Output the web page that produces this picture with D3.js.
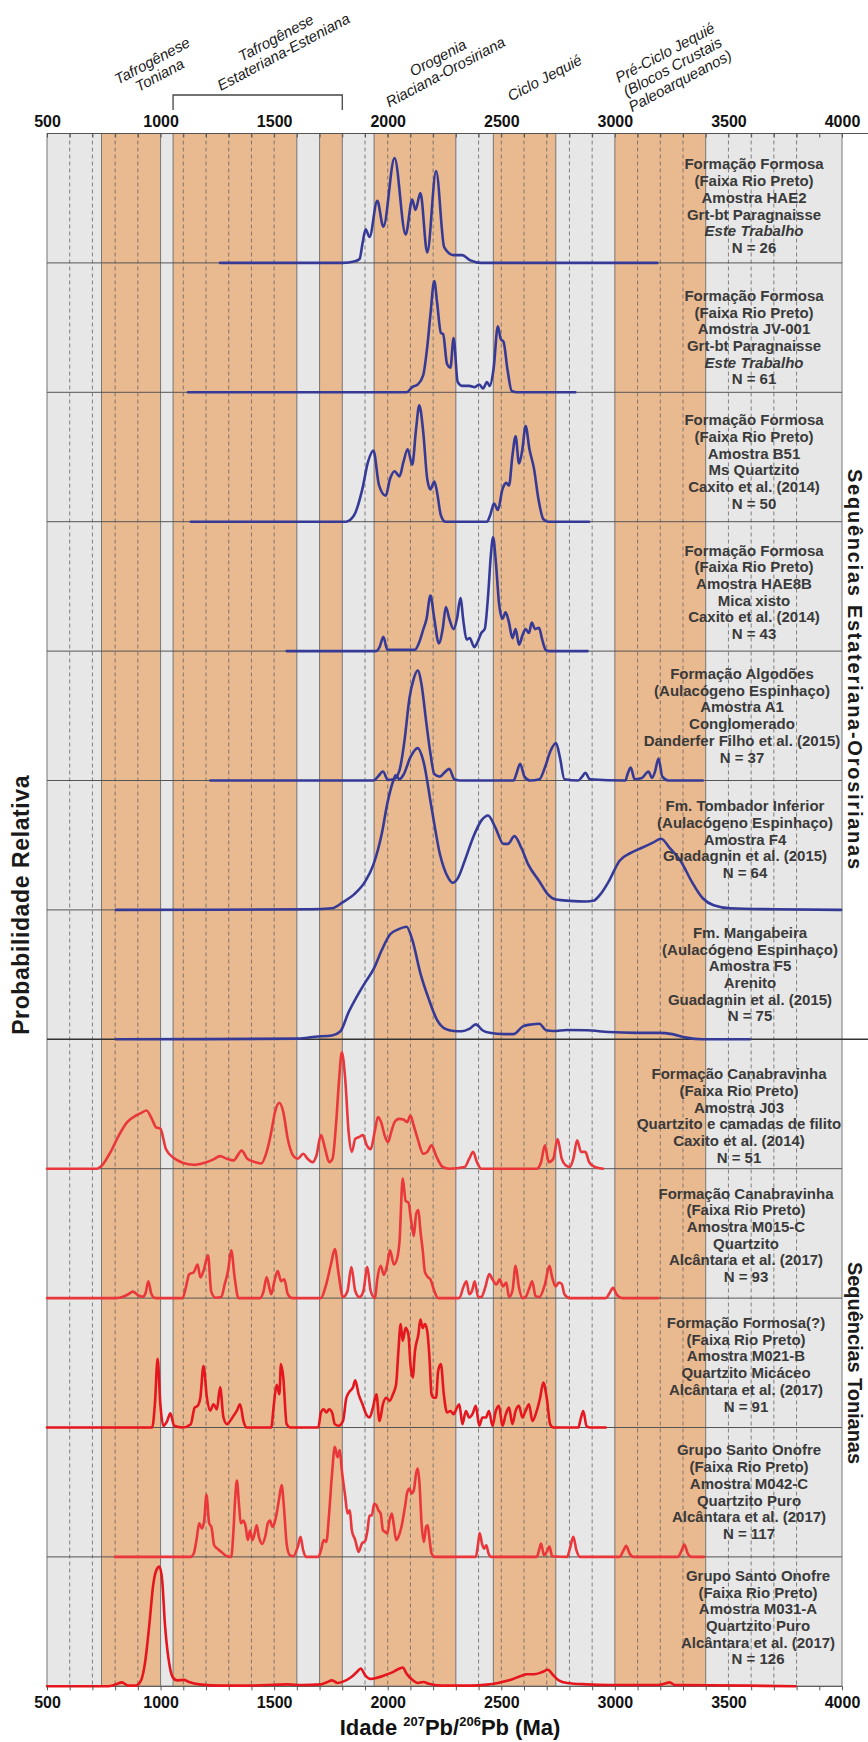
<!DOCTYPE html>
<html>
<head>
<meta charset="utf-8">
<script src="https://cdn.jsdelivr.net/npm/d3@7/dist/d3.min.js"></script>
<style>
  body { margin: 0; background: #fff; }
  svg { display: block; font-family: "Liberation Sans", Arial, Helvetica, sans-serif; }
</style>
</head>
<body>
<svg id="chart" width="868" height="1742"></svg>
<script>
// ---- dados (idade em Ma, probabilidade relativa) ----
const s1 = [[1262,0],[1803,0],[1852,0.01],[1876,0.03],[1889,0.15],[1903,0.26],[1920,0.2],[1954,0.48],[1981,0.28],[2030,0.81],[2079,0.22],[2108,0.49],[2122,0.41],[2144,0.54],[2174,0.08],[2213,0.71],[2249,0.12],[2290,0.06],[2327,0.06],[2364,0.02],[2412,0],[3187,0]]
const s2 = [[1121,0],[2083,0],[2108,0.04],[2132,0.06],[2156,0.13],[2174,0.35],[2188,0.6],[2205,0.86],[2217,0.7],[2234,0.46],[2244,0.45],[2261,0.22],[2276,0.19],[2290,0.42],[2308,0.08],[2327,0.05],[2359,0.05],[2383,0.04],[2403,0.06],[2420,0.03],[2437,0.08],[2449,0.05],[2466,0.18],[2485,0.51],[2498,0.41],[2510,0.39],[2527,0.18],[2546,0.01],[2571,0],[2826,0]]
const s3 = [[1133,0],[1815,0],[1852,0.05],[1888,0.25],[1913,0.46],[1937,0.55],[1962,0.28],[1991,0.2],[2010,0.33],[2030,0.39],[2052,0.35],[2069,0.46],[2088,0.56],[2108,0.44],[2125,0.72],[2139,0.9],[2156,0.7],[2174,0.33],[2188,0.25],[2205,0.31],[2217,0.23],[2234,0.05],[2254,0],[2437,0],[2451,0.05],[2468,0.14],[2485,0.09],[2505,0.25],[2522,0.3],[2534,0.28],[2549,0.51],[2563,0.66],[2578,0.45],[2593,0.56],[2607,0.74],[2624,0.56],[2644,0.41],[2663,0.18],[2685,0.02],[2705,0],[2887,0]]
const s4 = [[1555,0],[1949,0],[1964,0.03],[1981,0.11],[1998,0.01],[2120,0.01],[2137,0.06],[2157,0.17],[2171,0.25],[2188,0.43],[2205,0.25],[2225,0.06],[2242,0.17],[2256,0.34],[2271,0.25],[2290,0.17],[2305,0.25],[2320,0.41],[2334,0.22],[2347,0.09],[2361,0.1],[2381,0.03],[2393,0.06],[2412,0.14],[2427,0.17],[2442,0.43],[2454,0.74],[2464,0.88],[2476,0.69],[2490,0.37],[2505,0.25],[2519,0.3],[2534,0.22],[2549,0.1],[2563,0.17],[2578,0.05],[2593,0.12],[2607,0.17],[2622,0.14],[2634,0.22],[2649,0.17],[2666,0.18],[2680,0.09],[2695,0.01],[2709,0],[2880,0]]
const s5 = [[1219,0],[1937,0],[1957,0.03],[1979,0.07],[2001,0.005],[2027,0.01],[2052,0.08],[2074,0.31],[2096,0.64],[2115,0.79],[2132,0.85],[2149,0.74],[2169,0.46],[2188,0.21],[2205,0.05],[2230,0.03],[2249,0.06],[2271,0.09],[2293,0.01],[2315,0],[2554,0],[2568,0.06],[2583,0.13],[2602,0.03],[2627,0],[2668,0.01],[2692,0.1],[2717,0.23],[2741,0.29],[2758,0.18],[2778,0.01],[2839,0],[2856,0.03],[2870,0.06],[2890,0.01],[3046,0],[3058,0.06],[3070,0.1],[3087,0.01],[3119,0.02],[3148,0.07],[3163,0.02],[3177,0.07],[3192,0.17],[3209,0.03],[3236,0],[3387,0]]
const s6 = [[804,0],[1657,0.005],[1755,0.013],[1803,0.06],[1852,0.12],[1901,0.22],[1937,0.35],[1974,0.59],[1998,0.82],[2023,0.99],[2035,1.04],[2052,1.01],[2071,1.05],[2100,1.18],[2132,1.25],[2157,1.15],[2193,0.79],[2230,0.43],[2266,0.25],[2286,0.21],[2310,0.25],[2339,0.38],[2376,0.56],[2412,0.69],[2442,0.73],[2473,0.64],[2510,0.51],[2529,0.51],[2558,0.57],[2588,0.48],[2619,0.35],[2668,0.22],[2705,0.12],[2741,0.08],[2802,0.07],[2875,0.065],[2904,0.07],[2936,0.12],[2973,0.22],[3021,0.38],[3070,0.44],[3119,0.48],[3168,0.52],[3204,0.55],[3241,0.48],[3289,0.38],[3338,0.22],[3387,0.09],[3435,0.036],[3509,0.013],[3703,0.005],[3996,0]]
const s7 = [[804,0],[1608,0.005],[1681,0.02],[1755,0.03],[1791,0.06],[1828,0.21],[1864,0.33],[1901,0.44],[1937,0.54],[1974,0.69],[2010,0.81],[2047,0.85],[2083,0.87],[2108,0.77],[2144,0.51],[2181,0.31],[2217,0.15],[2254,0.08],[2290,0.064],[2327,0.062],[2359,0.08],[2388,0.115],[2417,0.07],[2449,0.05],[2510,0.04],[2554,0.04],[2595,0.1],[2632,0.115],[2668,0.12],[2697,0.07],[2729,0.064],[2790,0.072],[2875,0.07],[2973,0.056],[3094,0.05],[3192,0.05],[3253,0.04],[3314,0.013],[3387,0],[3594,0]]
const s8 = [[500,0],[719,0],[744,0.03],[780,0.13],[817,0.26],[853,0.36],[890,0.41],[914,0.43],[938,0.45],[963,0.38],[980,0.32],[999,0.31],[1024,0.15],[1060,0.08],[1097,0.046],[1146,0.03],[1194,0.046],[1231,0.07],[1262,0.097],[1292,0.077],[1321,0.064],[1357,0.14],[1382,0.077],[1418,0.05],[1443,0.04],[1467,0.13],[1487,0.28],[1504,0.44],[1523,0.51],[1540,0.44],[1560,0.23],[1584,0.1],[1604,0.077],[1628,0.115],[1647,0.077],[1669,0.05],[1686,0.1],[1706,0.26],[1725,0.15],[1742,0.05],[1757,0.077],[1774,0.38],[1786,0.69],[1798,0.9],[1813,0.69],[1828,0.28],[1842,0.13],[1857,0.23],[1874,0.245],[1891,0.26],[1908,0.18],[1925,0.15],[1942,0.28],[1957,0.4],[1971,0.36],[1986,0.26],[2001,0.205],[2015,0.28],[2030,0.36],[2049,0.385],[2069,0.38],[2086,0.36],[2100,0.41],[2115,0.33],[2132,0.23],[2157,0.115],[2174,0.13],[2193,0.18],[2213,0.1],[2242,0.013],[2271,0],[2339,0.013],[2359,0.077],[2376,0.13],[2393,0.05],[2412,0],[2656,0],[2675,0.05],[2692,0.18],[2709,0.05],[2729,0.077],[2748,0.23],[2766,0.077],[2783,0.026],[2802,0.013],[2817,0.077],[2834,0.22],[2851,0.13],[2870,0.13],[2887,0.05],[2912,0.013],[2948,0]]
const s9 = [[500,0],[805,0],[834,0.01],[858,0.03],[878,0.05],[902,0.02],[921,0.01],[934,0.04],[946,0.13],[960,0.03],[977,0],[1097,0],[1111,0.08],[1126,0.185],[1146,0.2],[1163,0.26],[1175,0.16],[1189,0.21],[1209,0.33],[1223,0.05],[1243,0.003],[1267,0.008],[1282,0.105],[1297,0.21],[1311,0.37],[1326,0.16],[1343,0],[1438,0],[1453,0.05],[1467,0.16],[1487,0.03],[1501,0.13],[1516,0.21],[1530,0.13],[1545,0.145],[1560,0.03],[1579,0],[1706,0],[1725,0.08],[1750,0.26],[1767,0.38],[1784,0.185],[1803,0.008],[1823,0.055],[1840,0.24],[1857,0.055],[1876,0.008],[1893,0.055],[1910,0.24],[1925,0.055],[1944,0],[1954,0.145],[1969,0.25],[1983,0.18],[1998,0.26],[2010,0.37],[2027,0.26],[2042,0.31],[2052,0.44],[2066,0.925],[2079,0.75],[2091,0.74],[2103,0.6],[2115,0.48],[2125,0.65],[2135,0.68],[2144,0.52],[2154,0.37],[2164,0.2],[2178,0.16],[2188,0.145],[2205,0.055],[2222,0],[2315,0],[2334,0.09],[2347,0.13],[2359,0.03],[2371,0.055],[2383,0.13],[2398,0.008],[2412,0.008],[2429,0.08],[2447,0.185],[2461,0.145],[2478,0.105],[2493,0.145],[2507,0.09],[2522,0.12],[2534,0.008],[2549,0.055],[2563,0.25],[2578,0.08],[2593,0],[2607,0.008],[2624,0.08],[2636,0.13],[2651,0.015],[2668,0.008],[2692,0.105],[2712,0.25],[2724,0.16],[2739,0.09],[2753,0.12],[2766,0.11],[2778,0.03],[2802,0],[2960,0],[2977,0.04],[2992,0.08],[3007,0.03],[3033,0],[3192,0]]
const s10 = [[500,0],[963,0],[975,0.18],[987,0.53],[999,0.18],[1012,0.013],[1029,0.05],[1043,0.11],[1060,0.013],[1097,0],[1133,0.026],[1150,0.154],[1163,0.167],[1175,0.23],[1189,0.475],[1204,0.23],[1219,0.13],[1233,0.18],[1248,0.14],[1262,0.31],[1277,0.077],[1292,0.026],[1306,0.05],[1321,0.09],[1336,0.13],[1350,0.18],[1365,0.05],[1379,0],[1487,0],[1499,0.18],[1511,0.33],[1523,0.257],[1530,0.49],[1540,0.39],[1555,0.026],[1572,0],[1694,0],[1706,0.116],[1718,0.141],[1730,0.116],[1742,0.141],[1755,0.116],[1767,0.026],[1784,0.013],[1803,0.05],[1818,0.23],[1833,0.28],[1847,0.31],[1857,0.365],[1872,0.257],[1889,0.18],[1906,0.1],[1920,0.077],[1935,0.154],[1950,0.257],[1964,0.05],[1979,0.18],[1993,0.23],[2008,0.206],[2023,0.257],[2037,0.334],[2047,0.59],[2057,0.8],[2066,0.67],[2079,0.77],[2091,0.72],[2100,0.49],[2110,0.386],[2120,0.59],[2135,0.72],[2144,0.835],[2154,0.77],[2164,0.8],[2174,0.745],[2183,0.565],[2193,0.257],[2203,0.23],[2213,0.23],[2222,0.437],[2234,0.49],[2247,0.257],[2261,0.116],[2276,0.128],[2290,0.103],[2305,0.154],[2315,0.18],[2329,0.026],[2344,0.128],[2359,0.077],[2373,0.103],[2388,0.167],[2403,0.013],[2417,0.077],[2432,0.077],[2446,0.128],[2461,0.013],[2476,0.128],[2490,0.167],[2505,0.013],[2520,0.103],[2534,0.154],[2549,0.026],[2563,0.128],[2578,0.167],[2593,0.077],[2607,0.128],[2622,0.18],[2637,0.05],[2656,0.128],[2671,0.23],[2685,0.347],[2700,0.23],[2715,0.026],[2729,0],[2839,0],[2851,0.077],[2861,0.128],[2875,0.013],[2890,0],[2960,0]]
const s11 = [[800,0],[1133,0],[1146,0.026],[1158,0.13],[1170,0.26],[1182,0.22],[1192,0.28],[1202,0.48],[1214,0.26],[1224,0.23],[1236,0.09],[1250,0.064],[1267,0.039],[1292,0.005],[1311,0],[1321,0.206],[1328,0.44],[1336,0.59],[1345,0.41],[1353,0.26],[1365,0.28],[1375,0.23],[1384,0.13],[1394,0.206],[1404,0.13],[1414,0.18],[1423,0.245],[1433,0.155],[1448,0.1],[1462,0.167],[1472,0.258],[1482,0.28],[1492,0.232],[1501,0.258],[1511,0.335],[1521,0.44],[1533,0.555],[1543,0.387],[1555,0.103],[1569,0.013],[1584,0.005],[1604,0.077],[1616,0.155],[1628,0.05],[1640,0],[1694,0],[1706,0.05],[1718,0.13],[1730,0.116],[1742,0.335],[1755,0.645],[1767,0.85],[1779,0.77],[1789,0.825],[1798,0.67],[1813,0.465],[1823,0.335],[1833,0.36],[1842,0.206],[1857,0.13],[1872,0.039],[1886,0.103],[1901,0.124],[1911,0.206],[1920,0.32],[1930,0.32],[1940,0.41],[1950,0.4],[1959,0.36],[1969,0.335],[1979,0.206],[1989,0.193],[1998,0.18],[2008,0.283],[2018,0.335],[2027,0.245],[2037,0.13],[2047,0.155],[2062,0.245],[2076,0.387],[2086,0.5],[2096,0.528],[2105,0.49],[2115,0.515],[2125,0.645],[2132,0.683],[2140,0.567],[2149,0.258],[2159,0.116],[2169,0.232],[2176,0.245],[2183,0.155],[2193,0.026],[2208,0],[2388,0],[2398,0.103],[2405,0.185],[2415,0.103],[2424,0.064],[2434,0.09],[2444,0.026],[2456,0],[2656,0],[2668,0.064],[2675,0.103],[2688,0.013],[2700,0.039],[2712,0.08],[2724,0.005],[2790,0],[2802,0.064],[2817,0.155],[2831,0.05],[2846,0],[3021,0],[3038,0.05],[3050,0.085],[3065,0.026],[3082,0],[3278,0],[3294,0.05],[3306,0.095],[3321,0.026],[3338,0],[3392,0]]
const s12 = [[500,0],[768,0],[804,0.015],[829,0.03],[858,0.005],[890,0.005],[914,0.046],[931,0.175],[951,0.485],[968,0.79],[982,0.9],[995,0.925],[1007,0.82],[1019,0.485],[1036,0.2],[1053,0.072],[1072,0.046],[1102,0.05],[1126,0.033],[1170,0.015],[1267,0.005],[1389,0.005],[1560,0.015],[1621,0.01],[1706,0.015],[1730,0.03],[1755,0.046],[1779,0.026],[1803,0.036],[1840,0.072],[1864,0.11],[1881,0.137],[1901,0.085],[1925,0.057],[1954,0.067],[1986,0.085],[2023,0.11],[2052,0.137],[2066,0.145],[2083,0.098],[2108,0.05],[2132,0.026],[2157,0.033],[2181,0.02],[2242,0.005],[2364,0.005],[2437,0.013],[2485,0.026],[2534,0.046],[2583,0.077],[2612,0.093],[2644,0.093],[2680,0.11],[2705,0.128],[2729,0.085],[2753,0.046],[2790,0.026],[2875,0.015],[2973,0.01],[3192,0.01],[3217,0.02],[3241,0.03],[3265,0.01],[3411,0.008],[3582,0.005],[3796,0]]
const series = [s1, s2, s3, s4, s5, s6, s7, s8, s9, s10, s11, s12]

// amostras (texto de cada painel); * = itálico
const sampleLabels = [
  ['Formação Formosa', '(Faixa Rio Preto)', 'Amostra HAE2', 'Grt-bt Paragnaisse', '*Este Trabalho', 'N = 26'],
  ['Formação Formosa', '(Faixa Rio Preto)', 'Amostra JV-001', 'Grt-bt Paragnaisse', '*Este Trabalho', 'N = 61'],
  ['Formação Formosa', '(Faixa Rio Preto)', 'Amostra B51', 'Ms Quartzito', 'Caxito et al. (2014)', 'N = 50'],
  ['Formação Formosa', '(Faixa Rio Preto)', 'Amostra HAE8B', 'Mica xisto', 'Caxito et al. (2014)', 'N = 43'],
  ['Formação Algodões', '(Aulacógeno Espinhaço)', 'Amostra A1', 'Conglomerado', 'Danderfer Filho et al. (2015)', 'N = 37'],
  ['Fm. Tombador Inferior', '(Aulacógeno Espinhaço)', 'Amostra F4', 'Guadagnin et al. (2015)', 'N = 64'],
  ['Fm. Mangabeira', '(Aulacógeno Espinhaço)', 'Amostra F5', 'Arenito', 'Guadagnin et al. (2015)', 'N = 75'],
  ['Formação Canabravinha', '(Faixa Rio Preto)', 'Amostra J03', 'Quartzito e camadas de filito', 'Caxito et al. (2014)', 'N = 51'],
  ['Formação Canabravinha', '(Faixa Rio Preto)', 'Amostra M015-C', 'Quartzito', 'Alcântara et al. (2017)', 'N = 93'],
  ['Formação Formosa(?)', '(Faixa Rio Preto)', 'Amostra M021-B', 'Quartzito Micáceo', 'Alcântara et al. (2017)', 'N = 91'],
  ['Grupo Santo Onofre', '(Faixa Rio Preto)', 'Amostra M042-C', 'Quartzito Puro', 'Alcântara et al. (2017)', 'N = 117'],
  ['Grupo Santo Onofre', '(Faixa Rio Preto)', 'Amostra M031-A', 'Quartzito Puro', 'Alcântara et al. (2017)', 'N = 126']
]

// faixas laranja (eventos), em Ma
const bands = [[740, 1000], [1055, 1600], [1700, 1800], [1940, 2300], [2465, 2740], [3000, 3400]]
// eventos no topo
const events = [
  {lines: ['Tafrogênese', 'Toniana'], age: 980, y: 68},
  {lines: ['Tafrogênese', 'Estateriana-Esteniana'], age: 1525, y: 45},
  {lines: ['Orogenia', 'Riaciana-Orosiriana'], age: 2238, y: 65},
  {lines: ['Ciclo Jequié'], age: 2691, y: 78},
  {lines: ['Pré-Ciclo Jequié', '(Blocos Crustais', 'Paleoarqueanos)'], age: 3254, y: 67}
]
const bracket = [1055, 1800]
const groups = [
  {name: 'Sequências Estateriana-Orosirianas', y: 669, len: 400},
  {name: 'Sequências Tonianas', y: 1363, len: 202}
]
const tickAges = d3.range(500, 4001, 100)
const gridAges = d3.range(600, 3801, 100)

// ---- layout ----
const plotTop = 133.5, panelH = 129.4, nPanels = 12
const plotBottom = plotTop + nPanels * panelH
const x = d3.scaleLinear().domain([500, 4000]).range([47, 842])
const labelX = [754, 754, 754, 754, 742, 745, 750, 739, 746, 746, 749, 758]
const labelLast = [15, 13, 18, 17, 23, 37, 23, 11, 21, 21, 23, 27]
const lineColor = (i) => i < 7 ? '#363a97' : (i === 9 || i === 11 ? '#e5161d' : '#e9373c')

const svg = d3.select('#chart')

// fundo cinza
svg.append('rect')
  .attr('x', x(500)).attr('y', plotTop)
  .attr('width', x(4000) - x(500)).attr('height', plotBottom - plotTop)
  .attr('fill', '#e7e7e7')

// faixas
svg.append('g').selectAll('rect').data(bands).enter().append('rect')
  .attr('x', d => x(d[0])).attr('y', plotTop)
  .attr('width', d => x(d[1]) - x(d[0])).attr('height', plotBottom - plotTop)
  .attr('fill', '#e9b990')

// linhas tracejadas
const edges = bands.flat()
svg.append('g').selectAll('line').data(gridAges.filter(a => edges.indexOf(a) < 0)).enter().append('line')
  .attr('x1', d => x(d)).attr('x2', d => x(d))
  .attr('y1', plotTop).attr('y2', plotBottom)
  .attr('stroke', '#656565').attr('stroke-width', 0.8)
  .attr('stroke-dasharray', '4,3')

// bordas das faixas
svg.append('g').selectAll('line').data(edges).enter().append('line')
  .attr('x1', d => x(d)).attr('x2', d => x(d))
  .attr('y1', plotTop).attr('y2', plotBottom)
  .attr('stroke', '#6c6c6c').attr('stroke-width', 0.9)

// borda do gráfico
svg.append('rect')
  .attr('x', x(500)).attr('y', plotTop)
  .attr('width', x(4000) - x(500)).attr('height', plotBottom - plotTop)
  .attr('fill', 'none').attr('stroke', '#777').attr('stroke-width', 1)

// linhas de base dos painéis
svg.append('g').selectAll('line').data(d3.range(nPanels)).enter().append('line')
  .attr('x1', x(500))
  .attr('x2', i => i === 6 ? 868 : x(4000))
  .attr('y1', i => plotTop + (i + 1) * panelH).attr('y2', i => plotTop + (i + 1) * panelH)
  .attr('stroke', i => i === 6 ? '#333' : '#555')
  .attr('stroke-width', i => i === 6 ? 1.6 : 1)

// linha do topo
svg.append('line')
  .attr('x1', x(500)).attr('x2', 868)
  .attr('y1', plotTop).attr('y2', plotTop)
  .attr('stroke', '#555').attr('stroke-width', 1)

// curvas de probabilidade
series.forEach((s, i) => {
  const base = plotTop + (i + 1) * panelH
  const y = d3.scaleLinear().domain([0, 1]).range([base, base - panelH])
  const line = d3.line()
    .x(d => x(d[0]))
    .y(d => y(d[1]))
    .curve(d3.curveMonotoneX)
  svg.append('path')
    .datum(s)
    .attr('d', line)
    .attr('fill', 'none')
    .attr('stroke', lineColor(i))
    .attr('stroke-width', 2.6)
    .attr('stroke-linejoin', 'round')
    .attr('stroke-linecap', 'round')
})

// textos das amostras
sampleLabels.forEach((lines, i) => {
  const base = plotTop + (i + 1) * panelH
  const lastY = base - labelLast[i]
  const t = svg.append('text')
    .attr('text-anchor', 'middle')
    .attr('font-size', 15)
    .attr('font-weight', 'bold')
    .attr('fill', '#3a3a3a')
  lines.forEach((ln, k) => {
    const italic = ln[0] === '*'
    t.append('tspan')
      .attr('x', labelX[i])
      .attr('y', lastY - (lines.length - 1 - k) * 16.7 + 5)
      .attr('font-style', italic ? 'italic' : null)
      .text(italic ? ln.slice(1) : ln)
  })
})

// eixo superior
const axTop = svg.append('g')
  .attr('transform', 'translate(0,' + plotTop + ')')
  .call(d3.axisTop(x).tickValues(tickAges).tickSize(-4).tickPadding(7)
    .tickFormat(d => d % 500 === 0 ? d : ''))
axTop.select('.domain').remove()

// eixo inferior
const axBot = svg.append('g')
  .attr('transform', 'translate(0,' + plotBottom + ')')
  .call(d3.axisBottom(x).tickValues(tickAges).tickSize(4).tickPadding(6)
    .tickFormat(d => d % 500 === 0 ? d : ''))
axBot.select('.domain').remove()

svg.selectAll('.tick line').attr('stroke', '#555')
svg.selectAll('.tick text')
  .attr('font-family', '"Liberation Sans", Arial, sans-serif')
  .attr('font-size', 16).attr('font-weight', 'bold').attr('fill', '#111')

// título eixo x
const xt = svg.append('text')
  .attr('x', 450).attr('y', 1735)
  .attr('text-anchor', 'middle')
  .attr('font-size', 22).attr('font-weight', 'bold').attr('fill', '#111')
xt.append('tspan').text('Idade ')
xt.append('tspan').attr('font-size', 13).attr('dy', -9).text('207')
xt.append('tspan').attr('dy', 9).text('Pb/')
xt.append('tspan').attr('font-size', 13).attr('dy', -9).text('206')
xt.append('tspan').attr('dy', 9).text('Pb (Ma)')

// título eixo y
svg.append('text')
  .attr('transform', 'translate(29,' + ((plotTop + plotBottom) / 2 - 5) + ') rotate(-90)')
  .attr('text-anchor', 'middle')
  .attr('font-size', 23).attr('font-weight', 'bold').attr('fill', '#1a1a1a')
  .attr('letter-spacing', 0.6)
  .text('Probabilidade Relativa')

// rótulos dos grupos (direita)
svg.append('g').selectAll('text').data(groups).enter().append('text')
  .attr('transform', d => 'translate(848,' + d.y + ') rotate(90)')
  .attr('text-anchor', 'middle')
  .attr('font-size', 20).attr('font-weight', 'bold').attr('fill', '#1a1a1a')
  .attr('textLength', d => d.len).attr('lengthAdjust', 'spacing')
  .text(d => d.name)

// eventos (topo)
events.forEach(ev => {
  const g = svg.append('g')
    .attr('transform', 'translate(' + x(ev.age) + ',' + ev.y + ') rotate(-28)')
  const t = g.append('text')
    .attr('text-anchor', 'middle')
    .attr('font-size', 15).attr('font-style', 'italic').attr('fill', '#1a1a1a')
  const n = ev.lines.length
  ev.lines.forEach((ln, k) => {
    t.append('tspan')
      .attr('x', 0)
      .attr('y', (k - (n - 1) / 2) * 16 + 5)
      .text(ln)
  })
})

// colchete Estateriana-Esteniana
svg.append('path')
  .attr('d', 'M' + x(bracket[0]) + ',110 V95 H' + x(bracket[1]) + ' V110')
  .attr('fill', 'none').attr('stroke', '#444').attr('stroke-width', 1.3)
</script>
